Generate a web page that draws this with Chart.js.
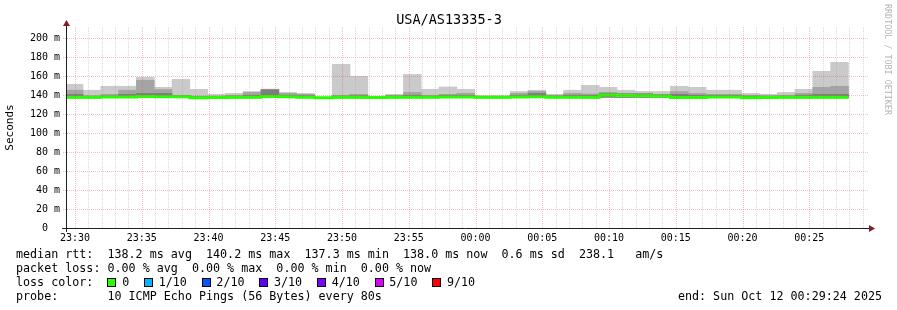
<!DOCTYPE html>
<html>
<head>
<meta charset="utf-8">
<title>USA/AS13335-3</title>
<script src="https://cdn.jsdelivr.net/npm/chart.js@4.4.1/dist/chart.umd.min.js"></script>
<style>
  body { margin: 0; background: #fff; }
  #wrap { position: relative; width: 897px; height: 310px; overflow: hidden; }
  #smoke { position: absolute; left: 0; top: 0; }
  .leg { position: absolute; left: 16px; font-family: 'DejaVu Sans Mono', monospace; font-size: 11.7px;
         line-height: 14px; white-space: pre; color: #000; }
  .box { display: inline-block; width: 7px; height: 7px; border: 1px solid #000; margin-right: 5.7px; vertical-align: -1px; }
  .item { margin-right: 14.8px; }
</style>
</head>
<body>
<div id="wrap">
  <canvas id="smoke" width="897" height="310"></canvas>
  <div class="leg" id="lineRtt" style="top:247px"></div>
  <div class="leg" id="lineLoss" style="top:261px"></div>
  <div class="leg" id="lineColor" style="top:275px"></div>
  <div class="leg" id="lineProbe" style="top:289px"></div>
  <div class="leg" id="lineEnd" style="top:289px; left:auto; right:15px"></div>
</div>
<script>
// chart texts
const chartTitle = 'USA/AS13335-3'
const watermark = 'RRDTOOL / TOBI OETIKER'

// end time of each 80s sample
const stepSec = 80
const sampleTimes = [
  '23:30:36','23:31:56','23:33:16','23:34:36','23:35:56','23:37:16','23:38:36','23:39:56',
  '23:41:16','23:42:36','23:43:56','23:45:16','23:46:36','23:47:56','23:49:16','23:50:36',
  '23:51:56','23:53:16','23:54:36','23:55:56','23:57:16','23:58:36','23:59:56','00:01:16',
  '00:02:36','00:03:56','00:05:16','00:06:36','00:07:56','00:09:16','00:10:36','00:11:56',
  '00:13:16','00:14:36','00:15:56','00:17:16','00:18:36','00:19:56','00:21:16','00:22:36',
  '00:23:56','00:25:16','00:26:36','00:27:56'
]

// rtt in ms (smoke bands + median)
const rttMin = [137.3,137.2,137.6,137.5,137.9,137.8,137.7,137.0,137.1,137.2,137.3,137.6,137.5,137.4,137.0,137.3,
                137.2,137.2,137.3,137.4,137.4,137.6,137.5,137.3,137.3,137.6,137.8,137.4,137.4,137.2,137.9,137.8,
                137.8,137.9,137.1,137.0,137.6,137.6,137.0,137.1,137.2,137.2,137.3,137.3]
const rttMax = [151.6,145.3,149.5,149.5,159.0,148.4,156.8,146.3,141.0,142.0,144.0,146.5,143.0,142.0,138.0,172.6,
                160.0,139.0,141.0,162.0,146.3,148.8,146.3,139.5,139.5,144.0,145.3,141.0,145.3,150.5,148.4,145.3,
                144.0,144.0,149.5,148.4,145.3,145.3,142.0,141.0,143.0,146.3,165.3,174.7]
const rttMidHigh = [145.3,139.5,141.0,145.3,155.8,146.0,140.0,139.0,139.0,140.0,143.0,146.2,142.0,141.0,137.8,140.0,
                    141.0,138.5,140.0,143.0,140.0,141.0,142.0,139.0,139.0,142.0,144.0,140.0,142.0,141.4,143.0,142.0,
                    142.0,141.0,144.0,142.0,141.0,141.0,140.0,139.5,140.0,142.0,148.4,149.5]
const rttInnerHigh = [141.0,138.6,139.0,141.0,142.0,142.0,139.2,138.5,138.3,139.0,140.0,145.8,140.0,139.5,137.6,139.0,
                      139.5,138.2,139.0,140.0,139.0,140.0,140.0,138.5,138.5,140.0,142.0,139.0,140.0,140.0,142.0,141.5,
                      141.5,140.5,141.0,140.0,140.0,140.0,139.0,139.0,139.0,140.0,141.0,141.0]
const rttMedian = [137.8,137.8,138.2,138.2,138.6,138.4,138.4,137.4,137.6,137.8,137.8,138.6,138.4,138.0,137.3,137.8,
                   137.8,137.6,137.8,138.0,138.0,138.2,138.2,137.8,137.8,138.2,138.4,138.0,138.0,137.8,140.2,139.8,
                   139.5,139.0,137.6,137.6,138.2,138.2,137.5,137.6,137.8,137.8,137.8,137.8]

// axis ticks
const xTickLabels = ['23:30','23:35','23:40','23:45','23:50','23:55','00:00','00:05','00:10','00:15','00:20','00:25']
const yTickValues = [0,10,20,30,40,50,60,70,80,90,100,110,120,130,140,150,160,170,180,190,200,210]

// legend
const statNames = ['avg','max','min','now']
const rttSummary = [138.2, 140.2, 137.3, 138.0]
const rttSd = 0.6
const rttAmS = 238.1
const lossSummary = [0, 0, 0, 0]
const lossLabels = ['0','1/10','2/10','3/10','4/10','5/10','9/10']
const lossColors = ['#26ff00','#00b8ff','#0059ff','#5e00ff','#7e00ff','#dd00ff','#ff0000']
const probeText = '10 ICMP Echo Pings (56 Bytes) every 80s'
const endText = 'end: Sun Oct 12 00:29:24 2025'

//seconds relative to 23:30:00
const toSec = s => {
    const [h, m, x] = s.split(':').map(Number)
    return (h < 12 ? h + 24 : h) * 3600 + m * 60 + x - (23 * 3600 + 30 * 60)
}
const centers = sampleTimes.map(t => toSec(t) - stepSec / 2)
const band = (lo, hi) => centers.map((x, i) => ({x: x, y: [lo[i], hi[i]]}))

const medianPts = []
centers.forEach((x, i) => {
    medianPts.push({x: x - stepSec / 2, y: rttMedian[i]})
    medianPts.push({x: x + stepSec / 2, y: rttMedian[i]})
})

// rrdtool-ish grid colours (thin dotted lines)
const gridRed = 'rgba(222,79,79,0.36)'
const gridGrey = 'rgba(143,143,143,0.32)'
const mono = 'DejaVu Sans Mono'

// x is "stacked" so the three bands share one slot, y is not so they overlap
const barOpts = {barThickness: 'flex', barPercentage: 1, categoryPercentage: 1, borderWidth: 0}

//dotted grid drawn over the smoke, from the scales' own ticks
const dottedGrid = {
    id: 'dottedGrid',
    afterDatasetsDraw(chart) {
        const {ctx, chartArea: a, scales: {x, y}} = chart
        ctx.save()
        ctx.lineWidth = 1
        ctx.setLineDash([1, 1])
        x.ticks.forEach(t => {
            const px = Math.round(x.getPixelForValue(t.value)) + 0.5
            ctx.strokeStyle = t.value % 300 === 0 ? gridRed : gridGrey
            ctx.beginPath()
            ctx.moveTo(px, a.bottom)
            ctx.lineTo(px, a.top)
            ctx.stroke()
        })
        y.ticks.forEach(t => {
            if (t.value === 0) return
            const py = Math.round(y.getPixelForValue(t.value)) + 0.5
            const major = t.value % 20 === 0
            ctx.strokeStyle = major ? gridRed : gridGrey
            ctx.beginPath()
            ctx.moveTo(a.left - (major ? 4 : 2), py)
            ctx.lineTo(a.right, py)
            ctx.stroke()
        })
        ctx.restore()
    }
}

//title, axes, arrows, watermark
const decor = {
    id: 'decor',
    afterDraw(chart) {
        const {ctx, chartArea: a} = chart
        ctx.save()
        ctx.fillStyle = '#000'
        ctx.font = '13.5px "' + mono + '"'
        ctx.textAlign = 'center'
        ctx.textBaseline = 'alphabetic'
        ctx.fillText(chartTitle, 449, 23.5)

        ctx.strokeStyle = '#1f1f1f'
        ctx.lineWidth = 1
        ctx.beginPath()
        ctx.moveTo(a.left - 0.5, a.bottom + 4)
        ctx.lineTo(a.left - 0.5, a.top - 2)
        ctx.moveTo(a.left - 5, a.bottom + 0.5)
        ctx.lineTo(a.right + 1, a.bottom + 0.5)
        ctx.stroke()

        ctx.fillStyle = '#801f1f'
        ctx.beginPath()
        ctx.moveTo(a.left - 0.5, a.top - 7)
        ctx.lineTo(a.left - 4, a.top - 1)
        ctx.lineTo(a.left + 3, a.top - 1)
        ctx.fill()
        ctx.beginPath()
        ctx.moveTo(a.right + 7, a.bottom + 0.5)
        ctx.lineTo(a.right + 1, a.bottom - 3)
        ctx.lineTo(a.right + 1, a.bottom + 4)
        ctx.fill()

        ctx.translate(887, 4)
        ctx.rotate(Math.PI / 2)
        ctx.fillStyle = '#b4b4b4'
        ctx.font = '8.4px "' + mono + '"'
        ctx.textAlign = 'left'
        ctx.textBaseline = 'middle'
        ctx.fillText(watermark, 0, 0)
        ctx.restore()
    }
}

const config = {
    type: 'bar',
    data: {
        datasets: [
            {type: 'line', data: medianPts, borderColor: lossColors[0], borderWidth: 3, pointRadius: 0,
             tension: 0, borderJoinStyle: 'miter', fill: false, order: 0},
            Object.assign({data: band(rttMin, rttInnerHigh), backgroundColor: '#7e7e7e', order: 1}, barOpts),
            Object.assign({data: band(rttMin, rttMidHigh), backgroundColor: '#a4a4a4', order: 2}, barOpts),
            Object.assign({data: band(rttMin, rttMax), backgroundColor: '#cacaca', order: 3}, barOpts)
        ]
    },
    options: {
        responsive: false,
        animation: false,
        layout: {padding: {left: 0, right: 29, top: 27, bottom: 62}},
        plugins: {legend: {display: false}, tooltip: {enabled: false}, title: {display: false}},
        scales: {
            x: {
                type: 'linear', min: -36, max: 3564, offset: false, stacked: true,
                afterBuildTicks: s => {
                    s.ticks = []
                    for (let v = 0; v <= 3540; v += 60) s.ticks.push({value: v})
                },
                afterFit: s => { s.height = 20 },
                grid: {drawOnChartArea: false, drawTicks: false},
                border: {display: false},
                ticks: {
                    autoSkip: false, maxRotation: 0, padding: 4, color: '#000',
                    font: {family: mono, size: 10},
                    callback: v => v % 300 === 0 ? xTickLabels[v / 300] : ''
                }
            },
            y: {
                min: 0, max: 212, stacked: false,
                afterBuildTicks: s => { s.ticks = yTickValues.map(v => ({value: v})) },
                afterFit: s => { s.width = 67 },
                grid: {drawOnChartArea: false, drawTicks: false},
                border: {display: false},
                ticks: {
                    padding: 7, color: '#000', font: {family: mono, size: 10},
                    callback: v => v % 20 ? '' : (v === 0 ? '0  ' : v + ' m')
                },
                title: {display: true, text: 'Seconds', color: '#000', font: {family: mono, size: 11}, padding: {top: 4, bottom: 0}}
            }
        }
    },
    plugins: [dottedGrid, decor]
}

const smokeChart = new Chart(document.getElementById('smoke'), config)

//legend lines under the graph
document.getElementById('lineRtt').textContent = 'median rtt:  ' +
    rttSummary.map((v, i) => v.toFixed(1) + ' ms ' + statNames[i]).join('  ') +
    '  ' + rttSd.toFixed(1) + ' ms sd  ' + rttAmS.toFixed(1) + '   am/s'
document.getElementById('lineLoss').textContent = 'packet loss: ' +
    lossSummary.map((v, i) => v.toFixed(2) + ' % ' + statNames[i]).join('  ')
document.getElementById('lineColor').innerHTML = 'loss color:  ' +
    lossLabels.map((l, i) => `<span class="box" style="background:${lossColors[i]}"></span><span class="item">${l}</span>`).join('')
document.getElementById('lineProbe').textContent = 'probe:       ' + probeText
document.getElementById('lineEnd').textContent = endText
</script>
</body>
</html>
